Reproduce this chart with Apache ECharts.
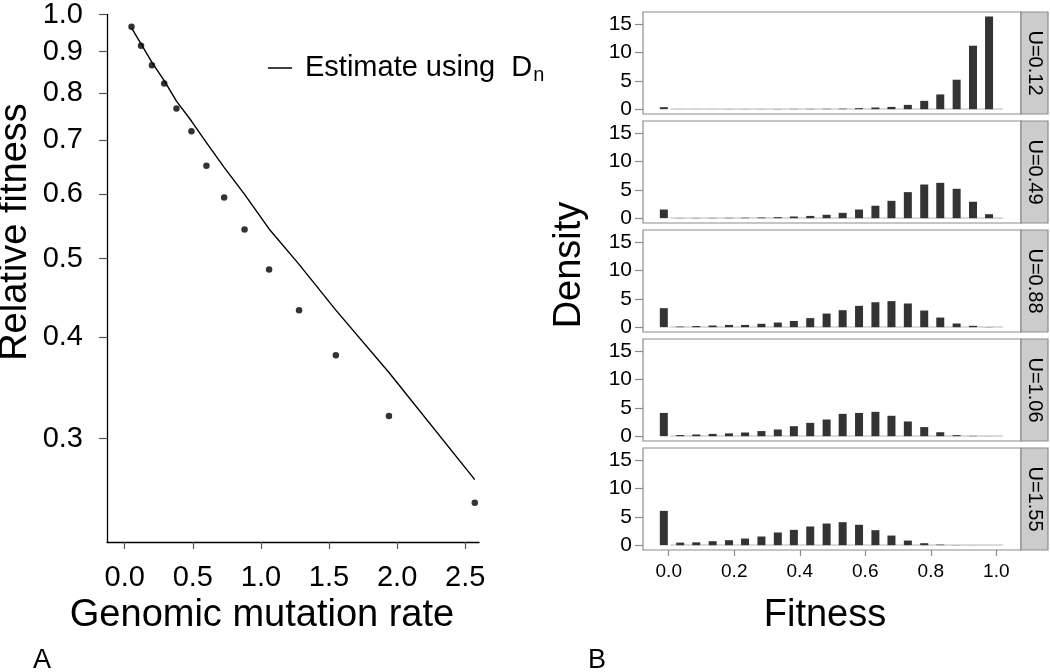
<!DOCTYPE html>
<html>
<head>
<meta charset="utf-8">
<script src="https://cdn.jsdelivr.net/npm/echarts@6/dist/echarts.min.js"></script>
<style>
html,body{margin:0;padding:0;background:#fff;}
#chart{width:1050px;height:672px;}
</style>
</head>
<body>
<div id="chart"></div>
<script>
// ---------- Panel A data ----------
const mutationRate = [0.05, 0.12, 0.20, 0.29, 0.38, 0.49, 0.60, 0.73, 0.88, 1.06, 1.28, 1.55, 1.94, 2.57];
const simulatedFitness = [0.966, 0.915, 0.866, 0.822, 0.766, 0.718, 0.651, 0.595, 0.543, 0.485, 0.432, 0.380, 0.320, 0.250];
const estimateDn = [0.963, 0.920, 0.873, 0.829, 0.782, 0.739, 0.695, 0.648, 0.600, 0.544, 0.492, 0.432, 0.362, 0.267];
const yTicksA = [0.3, 0.4, 0.5, 0.6, 0.7, 0.8, 0.9, 1.0];
const xTicksA = [0, 0.5, 1.0, 1.5, 2.0, 2.5];

// ---------- Panel B data ----------
const fitnessBins = [-0.015, 0.035, 0.084, 0.134, 0.184, 0.233, 0.283, 0.333, 0.382, 0.432, 0.482,
                     0.531, 0.581, 0.631, 0.680, 0.730, 0.780, 0.829, 0.879, 0.929, 0.978];
const uValues = [0.12, 0.49, 0.88, 1.06, 1.55];
const density012 = [0.35, 0.01, 0.01, 0.01, 0.02, 0.02, 0.02, 0.03, 0.04, 0.05, 0.06, 0.08, 0.18, 0.30, 0.40, 0.76, 1.47, 2.60, 5.20, 11.2, 16.35];
const density049 = [1.53, 0.03, 0.04, 0.05, 0.06, 0.08, 0.12, 0.18, 0.30, 0.40, 0.60, 0.94, 1.53, 2.20, 3.06, 4.60, 5.94, 6.24, 5.18, 2.90, 0.70];
const density088 = [3.35, 0.10, 0.20, 0.30, 0.40, 0.40, 0.60, 0.82, 1.10, 1.60, 2.40, 3.00, 3.76, 4.40, 4.60, 4.18, 2.94, 1.70, 0.65, 0.24, 0.03];
const density106 = [4.10, 0.20, 0.30, 0.40, 0.50, 0.65, 0.90, 1.18, 1.76, 2.35, 2.94, 3.94, 4.10, 4.30, 3.60, 2.60, 1.60, 0.70, 0.18, 0.05, 0.01];
const density155 = [6.06, 0.45, 0.50, 0.70, 0.88, 1.18, 1.53, 2.24, 2.70, 3.30, 3.82, 4.06, 3.60, 2.65, 1.70, 0.82, 0.35, 0.10, 0.03, 0.01, 0.00];
const densityTicks = [0, 5, 10, 15];
const fitnessTicks = [0, 0.2, 0.4, 0.6, 0.8, 1.0];

const densities = [density012, density049, density088, density106, density155];

const FONT = 'Liberation Sans, Arial, Helvetica, sans-serif';
const GRAY = '#8c8c8c';
const lg = v => Math.log10(v);

const grids = [{left: 107, top: 11, width: 372, height: 531}];
const xAxes = [{
  type: 'value', gridIndex: 0, min: -0.13, max: 2.601,
  axisLine: {show: true, onZero: false, lineStyle: {color: '#000', width: 1.3}},
  axisTick: {show: true, customValues: xTicksA, length: 7, lineStyle: {color: '#555', width: 1.2}},
  axisLabel: {show: true, customValues: xTicksA, margin: 21, fontSize: 29, fontFamily: FONT, color: '#000',
              formatter: v => v.toFixed(1)},
  splitLine: {show: false}
}];
const yAxes = [{
  type: 'value', gridIndex: 0, min: lg(0.2237), max: 0,
  axisLine: {show: true, onZero: false, lineStyle: {color: '#000', width: 1.3}},
  axisTick: {show: true, customValues: yTicksA.map(lg), length: 8, lineStyle: {color: '#555', width: 1.2}},
  axisLabel: {show: true, customValues: yTicksA.map(lg), margin: 24, fontSize: 29, fontFamily: FONT, color: '#000',
              formatter: v => Math.pow(10, v).toFixed(1)},
  splitLine: {show: false}
}];

const series = [
  {
    name: 'Estimate', type: 'line', xAxisIndex: 0, yAxisIndex: 0,
    data: mutationRate.map((u, i) => [u, lg(estimateDn[i])]),
    symbol: 'none', color: '#000', lineStyle: {color: '#000', width: 1.4}, z: 3
  },
  {
    name: 'Simulated', type: 'scatter', xAxisIndex: 0, yAxisIndex: 0,
    data: mutationRate.map((u, i) => [u, lg(simulatedFitness[i])]),
    symbol: 'circle', symbolSize: 6.5, itemStyle: {color: '#000'}, z: 4
  }
];

const panelTops = [12, 121, 230, 339, 448];
const panelH = 102;
const graphics = [];

panelTops.forEach((top, p) => {
  const gi = p + 1;
  const last = p === panelTops.length - 1;
  grids.push({left: 643, top: top, width: 378, height: panelH, show: true,
              borderColor: GRAY, borderWidth: 1.2, backgroundColor: 'transparent'});
  xAxes.push({
    type: 'value', gridIndex: gi, min: -0.0786, max: 1.0755,
    axisLine: {show: false, onZero: false},
    axisTick: {show: last, customValues: fitnessTicks, length: 6, lineStyle: {color: GRAY, width: 1.2}},
    axisLabel: {show: last, customValues: fitnessTicks, margin: 12, fontSize: 19, fontFamily: FONT, color: '#000',
                formatter: v => v.toFixed(1)},
    splitLine: {show: false}
  });
  yAxes.push({
    type: 'value', gridIndex: gi, min: -0.85, max: 17.15,
    axisLine: {show: false, onZero: false},
    axisTick: {show: true, customValues: densityTicks, length: 8, lineStyle: {color: GRAY, width: 1.2}},
    axisLabel: {show: true, customValues: densityTicks, margin: 11, fontSize: 21, fontFamily: FONT, color: '#000'},
    splitLine: {show: false}
  });
  series.push({
    type: 'bar', xAxisIndex: gi, yAxisIndex: gi,
    data: fitnessBins.map((x, i) => [x, densities[p][i]]),
    barWidth: 8, itemStyle: {color: '#333333'}, z: 3,
    markLine: {
      silent: true, symbol: 'none', label: {show: false}, z: 2,
      lineStyle: {color: '#cfcfcf', width: 1.5, type: 'solid'},
      data: [[{coord: [0.005, 0]}, {coord: [1.02, 0]}]]
    }
  });
  // strip
  graphics.push({
    type: 'rect', shape: {x: 1021, y: top, width: 27, height: panelH},
    style: {fill: '#cccccc', stroke: GRAY, lineWidth: 1.2}, z: 10
  });
  graphics.push({
    type: 'text', x: 1034.5, y: top + panelH / 2, rotation: -Math.PI / 2,
    style: {text: 'U=' + uValues[p].toFixed(2), fontSize: 20, fontFamily: FONT, fill: '#000',
            align: 'center', verticalAlign: 'middle'}, z: 11
  });
});

// titles
graphics.push(
  {type: 'text', x: 262, y: 616, style: {text: 'Genomic mutation rate', fontSize: 38, fontFamily: FONT, fill: '#000', align: 'center', verticalAlign: 'middle'}},
  {type: 'text', x: 16, y: 232, rotation: Math.PI / 2, style: {text: 'Relative fitness', fontSize: 38, fontFamily: FONT, fill: '#000', align: 'center', verticalAlign: 'middle'}},
  {type: 'text', x: 825, y: 616, style: {text: 'Fitness', fontSize: 38, fontFamily: FONT, fill: '#000', align: 'center', verticalAlign: 'middle'}},
  {type: 'text', x: 570, y: 265, rotation: Math.PI / 2, style: {text: 'Density', fontSize: 38, fontFamily: FONT, fill: '#000', align: 'center', verticalAlign: 'middle'}},
  {type: 'text', x: 42, y: 661, style: {text: 'A', fontSize: 27, fontFamily: FONT, fill: '#000', align: 'center', verticalAlign: 'middle'}},
  {type: 'text', x: 597, y: 661, style: {text: 'B', fontSize: 27, fontFamily: FONT, fill: '#000', align: 'center', verticalAlign: 'middle'}}
);

const chart = echarts.init(document.getElementById('chart'), null, {renderer: 'canvas'});
chart.setOption({
  animation: false,
  backgroundColor: '#fff',
  grid: grids,
  xAxis: xAxes,
  yAxis: yAxes,
  legend: {
    data: [{name: 'Estimate', icon: 'rect'}],
    left: 263, top: 46,
    itemWidth: 24, itemHeight: 1.5,
    formatter: () => '{a|Estimate using  D}{s|n}',
    textStyle: {
      padding: [0, 0, 0, 8],
      rich: {
        a: {fontSize: 29, fontFamily: FONT, color: '#000', lineHeight: 36},
        s: {fontSize: 20, fontFamily: FONT, color: '#000', lineHeight: 36, padding: [14, 0, 0, 1]}
      }
    }
  },
  series: series,
  graphic: graphics
});
</script>
</body>
</html>
